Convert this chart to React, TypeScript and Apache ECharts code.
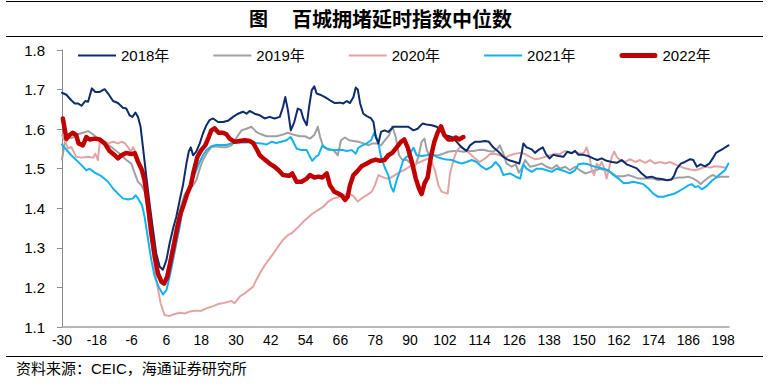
import React, { useEffect, useRef } from "react";
import * as echarts from "echarts";

const TITLE_FIG = "图";
const TITLE = "百城拥堵延时指数中位数";
const SOURCE = "资料来源：CEIC，海通证券研究所";
const seriesNames = ["2018年", "2019年", "2020年", "2021年", "2022年"];
const xMin = -30;
const xMax = 200;
const xStep = 12;
const yMin = 1.1;
const yMax = 1.8;
const yStep = 0.1;

const s2018: [number, number][] = [
  [-30, 1.692], [-28.5, 1.687], [-26.8, 1.673], [-25.6, 1.665], [-24.5, 1.665], [-23.3, 1.659], [-22, 1.671], [-21, 1.669],
  [-19.7, 1.703], [-18.5, 1.694], [-17, 1.694], [-15.3, 1.701], [-14.1, 1.69], [-12.4, 1.671], [-10.7, 1.666], [-9, 1.654],
  [-7.8, 1.652], [-6.7, 1.635], [-5.7, 1.631], [-4.7, 1.642], [-3.8, 1.631], [-2.9, 1.606], [-2.1, 1.555], [-0.9, 1.479],
  [0.2, 1.412], [1.4, 1.345], [2.5, 1.286], [3.7, 1.252], [4.8, 1.245], [6, 1.269], [7.1, 1.311], [8.3, 1.349], [9.4, 1.378],
  [10.6, 1.421], [11.7, 1.458], [12.9, 1.513], [13.7, 1.543], [14.4, 1.554], [15.2, 1.534], [16.3, 1.543], [17.5, 1.564],
  [18.6, 1.589], [19.8, 1.61], [20.9, 1.623], [22.1, 1.627], [23.8, 1.618], [25.5, 1.618], [27.2, 1.621], [29, 1.631],
  [30.7, 1.639], [32.4, 1.644], [33.6, 1.639], [34.7, 1.646], [36.4, 1.639], [38.2, 1.635], [39.9, 1.627], [41.6, 1.631],
  [43.3, 1.627], [45.1, 1.631], [46.2, 1.656], [47, 1.681], [47.9, 1.648], [48.9, 1.597], [50.1, 1.618], [51.3, 1.652],
  [52.4, 1.648], [53.2, 1.627], [54.4, 1.61], [55.2, 1.656], [56.1, 1.698], [57, 1.708], [57.8, 1.69], [59, 1.687],
  [60.7, 1.681], [62.4, 1.673], [64.1, 1.666], [65.9, 1.667], [67, 1.665], [68.2, 1.671], [69.3, 1.666], [70.5, 1.681],
  [71.3, 1.705], [72, 1.7], [72.8, 1.665], [73.9, 1.639], [75.1, 1.633], [76.6, 1.627], [77.4, 1.618], [78.2, 1.58],
  [79.1, 1.564], [80, 1.593], [81.2, 1.597], [82.5, 1.593], [84.3, 1.606], [86, 1.606], [87.7, 1.606], [89.4, 1.606],
  [91.2, 1.597], [92.6, 1.601], [94.3, 1.614], [95.7, 1.612], [97.5, 1.61], [99.2, 1.606], [100.9, 1.593], [102.6, 1.584],
  [104.4, 1.58], [106.1, 1.568], [107.8, 1.554], [109.5, 1.545], [110.7, 1.559], [112.4, 1.568], [114.1, 1.568],
  [115.9, 1.57], [117.2, 1.568], [118.7, 1.554], [120.5, 1.543], [122.2, 1.53], [123.9, 1.522], [126.2, 1.517],
  [127.7, 1.513], [128.5, 1.539], [129.1, 1.564], [130.2, 1.554], [132, 1.549], [133.1, 1.54], [134.6, 1.549],
  [135.8, 1.554], [136.9, 1.537], [138.1, 1.526], [139.4, 1.535], [141.2, 1.532], [142.9, 1.53], [144.3, 1.543],
  [145.8, 1.539], [146.9, 1.545], [148.1, 1.535], [149.8, 1.535], [151.5, 1.532], [153.2, 1.526], [154.6, 1.522],
  [156.1, 1.526], [157.8, 1.52], [159.6, 1.517], [161.3, 1.515], [163, 1.522], [164.7, 1.511], [166.5, 1.506],
  [168.2, 1.501], [169.9, 1.488], [171.6, 1.478], [173.4, 1.48], [175.1, 1.475], [176.8, 1.474], [178.5, 1.471],
  [180.2, 1.473], [181.1, 1.483], [182, 1.5], [183.4, 1.513], [184.8, 1.517], [186.6, 1.524], [187.7, 1.522],
  [188.9, 1.505], [190.2, 1.511], [191.7, 1.506], [193.2, 1.513], [194.4, 1.526], [195.5, 1.54], [196.7, 1.545],
  [198.1, 1.551], [199.8, 1.559],
];

const s2019: [number, number][] = [
  [-30, 1.523], [-29.1, 1.564], [-27.9, 1.576], [-26.2, 1.579], [-24.5, 1.587], [-22.8, 1.591], [-21, 1.595],
  [-19.7, 1.589], [-18.2, 1.58], [-16.4, 1.574], [-14.7, 1.564], [-13, 1.555], [-11.3, 1.545], [-9.5, 1.534],
  [-7.8, 1.522], [-6.1, 1.513], [-4.9, 1.488], [-3.8, 1.467], [-2.6, 1.458], [-1.5, 1.442], [-0.3, 1.39], [0.8, 1.33],
  [2, 1.28], [3.2, 1.24], [4.5, 1.215], [5.5, 1.218], [6.5, 1.245], [7.6, 1.29], [8.8, 1.335], [10, 1.375], [11.2, 1.41],
  [12.3, 1.435], [13.4, 1.446], [15.2, 1.458], [16.3, 1.471], [17.5, 1.5], [18.6, 1.522], [19.8, 1.538], [21.5, 1.555],
  [23.2, 1.557], [25, 1.554], [26.7, 1.554], [28.4, 1.559], [30.2, 1.579], [31.9, 1.597], [33.6, 1.601], [35.3, 1.606],
  [37, 1.593], [38.7, 1.587], [40.5, 1.582], [42.2, 1.582], [43.9, 1.582], [45.6, 1.585], [47.9, 1.591], [50.3, 1.585],
  [52, 1.582], [53.8, 1.582], [55.5, 1.576], [57, 1.585], [58.2, 1.606], [59, 1.58], [60.1, 1.555], [61.8, 1.548],
  [63.6, 1.547], [65.1, 1.534], [66.2, 1.572], [67.6, 1.579], [69, 1.572], [70.5, 1.57], [72.2, 1.568], [73.9, 1.564],
  [75.6, 1.559], [77, 1.564], [78.5, 1.564], [80, 1.559], [81.4, 1.572], [82.8, 1.585], [83.9, 1.607], [85.1, 1.58],
  [86.2, 1.534], [87.4, 1.522], [88.9, 1.522], [90.3, 1.513], [91.7, 1.506], [92.9, 1.53], [94, 1.568], [95, 1.576],
  [95.8, 1.547], [96.9, 1.53], [98.1, 1.534], [99.8, 1.534], [101.5, 1.538], [103.2, 1.543], [105, 1.545], [106.7, 1.545],
  [108.4, 1.543], [110.1, 1.545], [111.8, 1.545], [113.6, 1.547], [115.3, 1.548], [117, 1.545], [118.7, 1.543],
  [120.2, 1.551], [121, 1.559], [122.2, 1.538], [123.3, 1.513], [125.1, 1.505], [126.5, 1.511], [127.5, 1.49],
  [128.5, 1.5], [129.7, 1.522], [131.4, 1.505], [133.7, 1.509], [135.4, 1.513], [137.1, 1.505], [138.9, 1.5],
  [140.6, 1.509], [141.7, 1.5], [143.5, 1.505], [145.2, 1.496], [146.9, 1.505], [148.6, 1.496], [150.4, 1.488],
  [152.1, 1.492], [153.8, 1.496], [155.5, 1.5], [157.3, 1.496], [159, 1.492], [161.3, 1.481], [163.6, 1.481],
  [165.3, 1.484], [167, 1.48], [168.8, 1.475], [170.5, 1.475], [172.2, 1.475], [173.9, 1.475], [175.6, 1.471],
  [177.4, 1.473], [179.1, 1.471], [180.8, 1.475], [182.5, 1.478], [184.3, 1.478], [186, 1.48], [187.7, 1.475],
  [189.4, 1.467], [190.2, 1.461], [191.7, 1.471], [193.5, 1.481], [194.6, 1.484], [195.8, 1.478], [197.5, 1.48],
  [199.8, 1.48],
];

const s2020: [number, number][] = [
  [-30, 1.585], [-29, 1.57], [-27.9, 1.551], [-26.8, 1.555], [-25.1, 1.53], [-23.3, 1.528], [-21, 1.53], [-19.3, 1.528],
  [-18.5, 1.538], [-17.6, 1.522], [-17, 1.568], [-15.3, 1.568], [-14.1, 1.564], [-12.4, 1.568], [-10.7, 1.564],
  [-9.5, 1.568], [-8.4, 1.565], [-7.2, 1.554], [-6.3, 1.543], [-5.5, 1.554], [-4.4, 1.539], [-3.2, 1.505], [-2.1, 1.471],
  [-0.9, 1.421], [0.2, 1.353], [1.4, 1.286], [2.5, 1.219], [4, 1.16], [5.4, 1.13], [7.1, 1.128], [8.9, 1.133],
  [10.6, 1.136], [12.3, 1.134], [14, 1.139], [15.7, 1.141], [18, 1.141], [19.8, 1.147], [21.5, 1.151], [23.8, 1.158],
  [26.1, 1.161], [28.4, 1.166], [29.5, 1.16], [31.3, 1.177], [33, 1.185], [34.7, 1.195], [35.9, 1.202], [37, 1.219],
  [38.2, 1.235], [39.9, 1.256], [41.6, 1.273], [43.3, 1.29], [44.5, 1.303], [46.2, 1.32], [47.9, 1.332], [49.2, 1.337],
  [51.5, 1.353], [53.8, 1.37], [56.1, 1.385], [58.4, 1.396], [60.1, 1.404], [61.8, 1.417], [63.6, 1.425], [65.3, 1.428],
  [67, 1.433], [68.7, 1.437], [70.5, 1.431], [72, 1.417], [73.3, 1.425], [75.1, 1.433], [76.8, 1.442], [77.9, 1.458],
  [79.1, 1.484], [80.2, 1.48], [82, 1.475], [83.5, 1.478], [84.8, 1.484], [86.6, 1.492], [88.3, 1.498], [90, 1.506],
  [91.7, 1.511], [93.5, 1.517], [95, 1.522], [96.3, 1.526], [97.5, 1.517], [98.6, 1.496], [99.8, 1.458], [100.9, 1.442],
  [102.1, 1.439], [103, 1.437], [103.8, 1.488], [105, 1.522], [106.1, 1.545], [107.6, 1.557], [109, 1.548],
  [110.7, 1.538], [112.4, 1.526], [114.1, 1.517], [115.9, 1.526], [117.6, 1.537], [119.3, 1.538], [121, 1.534],
  [122.8, 1.528], [124.5, 1.534], [126.2, 1.538], [128, 1.54], [129.7, 1.537], [131.4, 1.53], [133.1, 1.524],
  [134.8, 1.526], [136.6, 1.53], [138.3, 1.534], [140, 1.538], [141.7, 1.537], [143.5, 1.545], [145.2, 1.54],
  [146.9, 1.543], [148.6, 1.538], [150, 1.54], [150.9, 1.554], [151.9, 1.53], [152.7, 1.496], [153.5, 1.484],
  [154.4, 1.513], [155.3, 1.505], [156.1, 1.517], [157, 1.5], [157.8, 1.475], [158.8, 1.505], [159.6, 1.53],
  [160.4, 1.543], [161.3, 1.53], [162.4, 1.522], [164.2, 1.517], [165.9, 1.524], [167.6, 1.517], [169.3, 1.522],
  [171.1, 1.515], [172.8, 1.522], [174.5, 1.513], [176.2, 1.517], [178, 1.513], [179.7, 1.517], [181.4, 1.511],
  [183.1, 1.506], [184.8, 1.501], [186.6, 1.498], [188.3, 1.496], [190, 1.5], [191.7, 1.505], [193.5, 1.503],
  [195.2, 1.506], [196.9, 1.505], [198.6, 1.503],
];

const s2021: [number, number][] = [
  [-30, 1.561], [-28.5, 1.548], [-26.8, 1.534], [-25.1, 1.522], [-23.3, 1.509], [-21.6, 1.496], [-20.5, 1.5],
  [-18.7, 1.49], [-16.4, 1.481], [-14.1, 1.467], [-12.4, 1.45], [-10.7, 1.437], [-9, 1.425], [-7.2, 1.422],
  [-5.5, 1.425], [-4.6, 1.433], [-3.8, 1.425], [-2.4, 1.408], [-1.5, 1.378], [-0.3, 1.32], [0.8, 1.269], [2, 1.227],
  [3.3, 1.202], [4.8, 1.182], [6, 1.193], [7.1, 1.227], [8.3, 1.269], [9.4, 1.311], [10.6, 1.353], [11.7, 1.404],
  [12.9, 1.437], [14, 1.454], [15.2, 1.475], [16.3, 1.496], [17.5, 1.517], [18.6, 1.534], [19.8, 1.547], [21.5, 1.557],
  [23.2, 1.56], [25, 1.56], [26.7, 1.56], [28.4, 1.564], [30.2, 1.566], [31.9, 1.566], [33.6, 1.566], [35.3, 1.568],
  [37, 1.565], [38.7, 1.564], [40.5, 1.561], [42.2, 1.568], [43.9, 1.565], [45.6, 1.568], [47.4, 1.572], [48.9, 1.58],
  [50.9, 1.551], [52.6, 1.547], [54.4, 1.547], [55.5, 1.53], [56.3, 1.52], [57.5, 1.53], [58.4, 1.534], [59.8, 1.559],
  [61.3, 1.551], [63, 1.548], [64.7, 1.547], [66.4, 1.548], [68.2, 1.545], [69.9, 1.547], [71.3, 1.538], [72.2, 1.553],
  [73.6, 1.559], [75.1, 1.564], [76.6, 1.572], [77.7, 1.591], [78.9, 1.572], [80, 1.53], [81.2, 1.505], [82.5, 1.484],
  [83.5, 1.454], [84.3, 1.442], [85.4, 1.471], [86.6, 1.496], [87.7, 1.522], [88.9, 1.53], [90, 1.538], [91.2, 1.553],
  [92.3, 1.534], [94, 1.532], [95.8, 1.534], [97.5, 1.537], [99.2, 1.53], [100.9, 1.526], [102.6, 1.523],
  [104.4, 1.522], [106.1, 1.517], [107.8, 1.513], [109.5, 1.517], [111.3, 1.522], [113, 1.517], [114.7, 1.505],
  [116.4, 1.498], [118.2, 1.505], [119.5, 1.517], [121, 1.505], [122.2, 1.484], [124.5, 1.488], [126.2, 1.481],
  [128, 1.475], [129.1, 1.511], [130.2, 1.5], [132, 1.492], [133.7, 1.5], [135.4, 1.5], [137.1, 1.496], [138.9, 1.492],
  [140.6, 1.5], [142.3, 1.496], [144, 1.492], [145.2, 1.488], [146.9, 1.496], [148.1, 1.511], [149.8, 1.513],
  [151.5, 1.511], [153.2, 1.506], [155, 1.503], [156.7, 1.5], [158.4, 1.496], [160.1, 1.484], [161.9, 1.475],
  [163.6, 1.464], [165.3, 1.464], [167, 1.467], [168.8, 1.464], [170.5, 1.461], [172.2, 1.45], [173.9, 1.437],
  [175.6, 1.429], [177.4, 1.429], [179.1, 1.433], [180.8, 1.436], [182.5, 1.442], [184.3, 1.45], [186, 1.458],
  [187.1, 1.461], [188.3, 1.454], [189.4, 1.456], [190.6, 1.448], [192.3, 1.456], [194, 1.469], [195.8, 1.479],
  [197.5, 1.49], [198.6, 1.496], [199.8, 1.513],
];

const s2022: [number, number][] = [
  [-29.7, 1.627], [-29.1, 1.602], [-28.5, 1.576], [-27.4, 1.585], [-26.2, 1.591], [-25.1, 1.585], [-24.3, 1.564],
  [-22.8, 1.559], [-21.6, 1.58], [-20.5, 1.574], [-18.7, 1.576], [-17, 1.574], [-15.3, 1.564], [-13.6, 1.545],
  [-11.8, 1.534], [-10.7, 1.526], [-9.5, 1.534], [-7.8, 1.54], [-6.1, 1.537], [-4.9, 1.539], [-3.8, 1.518],
  [-2.4, 1.496], [-1.5, 1.471], [-0.3, 1.404], [0.8, 1.336], [2, 1.277], [3.1, 1.235], [4.3, 1.214], [5.2, 1.21],
  [6.3, 1.227], [7.5, 1.269], [8.6, 1.307], [9.8, 1.353], [10.9, 1.387], [12.1, 1.412], [13.2, 1.437], [14.4, 1.458],
  [15.5, 1.496], [16.7, 1.53], [18, 1.547], [19.4, 1.559], [20.6, 1.58], [21.5, 1.597], [22.6, 1.602], [24, 1.591],
  [25.5, 1.591], [26.7, 1.587], [27.8, 1.576], [29.5, 1.568], [31.3, 1.57], [33, 1.572], [34.7, 1.57], [35.9, 1.565],
  [37, 1.551], [38.2, 1.534], [39.9, 1.523], [41.6, 1.513], [43.3, 1.505], [44.7, 1.496], [46.2, 1.484], [48.3, 1.482],
  [49.4, 1.488], [50.9, 1.467], [52.6, 1.467], [54.4, 1.475], [55.5, 1.484], [57, 1.478], [58.4, 1.48], [59.8, 1.478],
  [61.3, 1.488], [62.4, 1.458], [63.9, 1.442], [65.3, 1.437], [66.4, 1.433], [67.6, 1.421], [68.5, 1.429],
  [69.3, 1.458], [70.5, 1.484], [71.6, 1.492], [73.3, 1.506], [75.1, 1.513], [76.8, 1.52], [78.2, 1.523], [79.7, 1.52],
  [81.2, 1.522], [82.5, 1.534], [83.9, 1.54], [85.4, 1.554], [86.9, 1.568], [88, 1.574], [89.2, 1.554], [90.6, 1.518],
  [92, 1.475], [93.1, 1.45], [94, 1.436], [95, 1.463], [96.1, 1.478], [97.2, 1.53], [98.4, 1.568], [99.5, 1.591],
  [100.7, 1.607], [101.8, 1.585], [103.2, 1.574], [104.6, 1.574], [105.8, 1.579], [106.9, 1.574], [108.4, 1.58],
];

const seriesData = [s2018, s2019, s2020, s2021, s2022];
const seriesColors = ["#0c2c6c", "#a0a0a0", "#e4a3a3", "#12b2ee", "#c00000"];
const seriesWidths = [2, 2, 2, 2, 4.5];
const legendIcons = [
  "path://M0,0h38v2h-38z",
  "path://M0,0h38v2h-38z",
  "path://M0,0h38v2h-38z",
  "path://M0,0h38v2h-38z",
  "path://M2.5,0h33a2.5,2.5 0 0 1 0,5h-33a2.5,2.5 0 0 1 0,-5z",
];

const LATIN = "'Liberation Sans', Arial, 'Noto Sans CJK SC', sans-serif";
const CJK = "'Noto Sans CJK SC', sans-serif";

export default function App() {
  const ref = useRef<HTMLDivElement>(null);
  useEffect(() => {
    if (!ref.current) return;
    const chart = echarts.init(ref.current, null, { renderer: "svg" });
    const option: any = {
      animation: false,
      backgroundColor: "#ffffff",
      grid: { left: 62, right: 42, top: 50, bottom: 60, containLabel: false },
      legend: {
        data: seriesNames.map((name, i) => ({ name, icon: legendIcons[i] })),
        left: 73,
        top: 43,
        itemWidth: 38,
        itemHeight: 14,
        itemGap: 44,
        symbolKeepAspect: true,
        textStyle: { fontSize: 15, color: "#000", fontFamily: LATIN },
      },
      xAxis: {
        type: "value",
        min: 0,
        max: xMax - xMin,
        interval: xStep,
        axisLine: { show: true, lineStyle: { color: "#a0a0a0", width: 1.5 } },
        axisTick: { show: false },
        splitLine: { show: false },
        axisLabel: {
          margin: 6,
          fontSize: 14,
          color: "#000",
          fontFamily: LATIN,
          showMaxLabel: false,
          formatter: (v: number) => String(Math.round(v + xMin)),
        },
      },
      yAxis: {
        type: "value",
        min: yMin,
        max: yMax,
        interval: yStep,
        axisLine: { show: true, lineStyle: { color: "#8c8c8c", width: 1 } },
        axisTick: { show: true, inside: false, length: 5, lineStyle: { color: "#8c8c8c" } },
        splitLine: { show: false },
        axisLabel: {
          margin: 17,
          fontSize: 15,
          color: "#000",
          fontFamily: LATIN,
          formatter: (v: number) => v.toFixed(1),
        },
      },
      series: seriesNames.map((name, i) => ({
        name,
        type: "line",
        symbol: "none",
        showSymbol: false,
        z: i === 4 ? 10 : 2 + (i === 0 ? 2 : 0),
        data: seriesData[i].map(([d, v]) => [d - xMin, v]),
        lineStyle: { color: seriesColors[i], width: seriesWidths[i], cap: "round", join: "round" },
        itemStyle: { color: seriesColors[i] },
      })),
      graphic: [
        { type: "line", shape: { x1: 6, y1: 1.5, x2: 763, y2: 1.5 }, style: { stroke: "#000", lineWidth: 1.2 } },
        { type: "line", shape: { x1: 6, y1: 36.5, x2: 763, y2: 36.5 }, style: { stroke: "#000", lineWidth: 1.2 } },
        { type: "line", shape: { x1: 6, y1: 356.5, x2: 763, y2: 356.5 }, style: { stroke: "#000", lineWidth: 1.2 } },
        {
          type: "text", left: 249, top: 8,
          style: { text: TITLE_FIG, fontSize: 19, fontWeight: "bold", fill: "#000", fontFamily: CJK },
        },
        {
          type: "text", left: 292, top: 8,
          style: { text: TITLE, fontSize: 20, fontWeight: "bold", fill: "#000", fontFamily: CJK },
        },
        {
          type: "text", left: 16, top: 361,
          style: { text: SOURCE, fontSize: 15, fill: "#000", fontFamily: LATIN },
        },
      ],
    };
    chart.setOption(option);
    return () => chart.dispose();
  }, []);
  return (
    <div
      ref={ref}
      style={{ position: "fixed", left: 0, top: 0, width: 771, height: 387, background: "#fff" }}
    />
  );
}
